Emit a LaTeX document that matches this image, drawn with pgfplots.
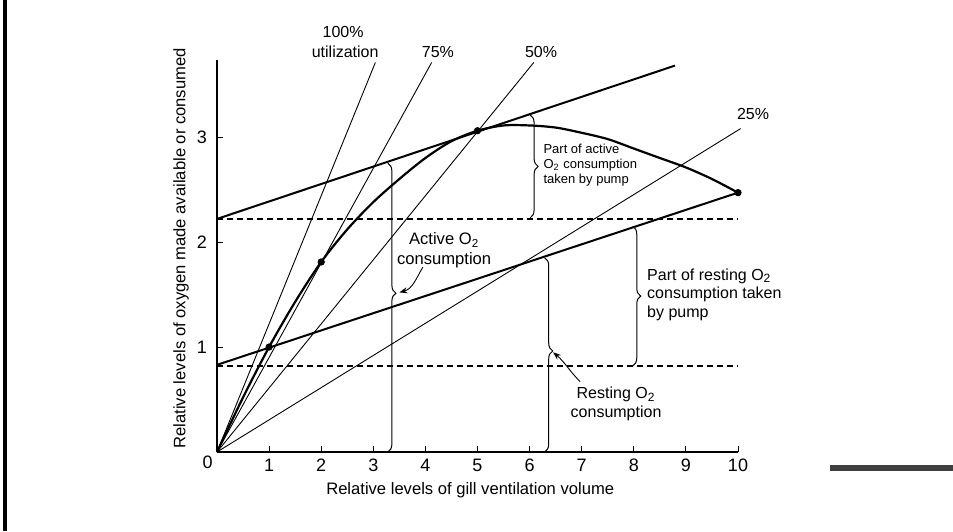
\documentclass[border=0pt]{standalone}
\usepackage{pgfplots}
\pgfplotsset{compat=1.18}
\usetikzlibrary{arrows.meta,decorations.pathreplacing}
\usepackage{fontspec}
\setmainfont{Liberation Sans}
\newcommand{\fs}[2]{\fontsize{#1}{#2}\selectfont}
\begin{document}
\begin{tikzpicture}
\useasboundingbox (-108.5pt,-39.5pt) rectangle (368pt,226pt);
\begin{axis}[
  anchor=origin, at={(0pt,0pt)},
  x=26.05pt, y=52.5pt,
  xmin=0, xmax=10, ymin=0, ymax=3.73,
  axis x line*=bottom, axis y line*=left,
  axis line style={line width=0.6pt,-},
  xtick={1,...,10}, ytick={1,2,3},
  tick align=inside,
  major tick length=3pt,
  tick style={line width=0.5pt, black},
  ticklabel style={font=\fs{9}{10}},
  yticklabel style={xshift=-1.5pt},
  /pgf/number format/assume math mode=true,
  xlabel={Relative levels of gill ventilation volume},
  ylabel={Relative levels of oxygen made available or consumed},
  label style={font=\fs{8.3}{10}},
  xlabel style={at={(rel axis cs:0.486,0)}, anchor=center, yshift=-19pt},
  ylabel style={at={(rel axis cs:0,0.52)}, anchor=center, yshift=18pt},
  clip=false,
]
% utilization lines
\addplot[line width=0.45pt] coordinates {(0,0) (3.04,3.71)};
\addplot[line width=0.45pt] coordinates {(0,0) (4.12,3.71)};
\addplot[line width=0.45pt] coordinates {(0,0) (6.08,3.71)};
\addplot[line width=0.45pt] coordinates {(0,0) (10.05,3.08)};
% dashed reference levels
\addplot[line width=0.6pt, dash pattern=on 3pt off 2pt] coordinates {(0,2.22) (10,2.22)};
\addplot[line width=0.6pt, dash pattern=on 3pt off 2pt] coordinates {(0,0.82) (10,0.82)};
% tangent lines
\addplot[line width=1pt] coordinates {(0,2.22) (8.79,3.68)};
\addplot[line width=1pt] coordinates {(0,0.83) (10,2.47)};
% oxygen made available curve
\addplot[line width=1.1pt, smooth] coordinates {
 (0,0) (0.5,0.52) (1,1) (1.5,1.43) (2,1.81) (2.5,2.12) (3,2.38) (3.5,2.6)
 (4,2.8) (4.5,2.96) (5,3.06) (5.5,3.11) (6,3.11) (6.5,3.09) (7,3.04)
 (7.5,2.98) (8,2.89) (8.5,2.8) (9,2.71) (9.5,2.6) (10,2.47)};
\addplot[only marks, mark=*, mark size=1.6pt] coordinates {(1,1) (2,1.81) (5,3.06) (10,2.47)};
% braces
\draw[line width=0.5pt, decorate, decoration={brace, amplitude=4pt, aspect=0.45}] (axis cs:3.28,2.75) -- (axis cs:3.28,0);
\draw[line width=0.5pt, decorate, decoration={brace, amplitude=4pt, aspect=0.48}] (axis cs:6.29,1.85) -- (axis cs:6.29,0);
\draw[line width=0.5pt, decorate, decoration={brace, amplitude=4pt, aspect=0.5}] (axis cs:6.01,3.21) -- (axis cs:6.01,2.23);
\draw[line width=0.5pt, decorate, decoration={brace, amplitude=4pt, aspect=0.5}] (axis cs:7.98,2.15) -- (axis cs:7.98,0.82);
% arrows
\draw[line width=0.45pt, -{Stealth[length=4pt,width=3pt]}] (axis cs:3.95,1.76) to[out=-120,in=15] (axis cs:3.5,1.52);
\draw[line width=0.45pt, -{Stealth[length=4pt,width=3pt]}] (axis cs:6.97,0.67) to[out=135,in=-40] (axis cs:6.45,0.95);
% labels
\node[font=\fs{8}{9}] at (axis cs:2.42,4.0) {100\%};
\node[font=\fs{8}{9}] at (axis cs:2.46,3.81) {utilization};
\node[font=\fs{8}{9}] at (axis cs:4.24,3.81) {75\%};
\node[font=\fs{8}{9}] at (axis cs:6.22,3.81) {50\%};
\node[font=\fs{8}{9}] at (axis cs:10.29,3.22) {25\%};
\node[font=\fs{6.5}{7.5}, anchor=west, align=left, inner sep=0pt] at (axis cs:6.26,2.73) {Part of active\\O\textsubscript{2} consumption\\taken by pump};
\node[font=\fs{8.3}{10}, align=center, inner sep=0pt] at (axis cs:4.36,1.92) {Active O\textsubscript{2}\\consumption};
\node[font=\fs{8}{9.3}, anchor=west, align=left, inner sep=0pt] at (axis cs:8.25,1.5) {Part of resting O\textsubscript{2}\\consumption taken\\by pump};
\node[font=\fs{8}{9.5}, align=center, inner sep=0pt] at (axis cs:7.66,0.46) {Resting O\textsubscript{2}\\consumption};
\node[font=\fs{9}{10}, anchor=north east, inner sep=2pt] at (axis cs:0,0) {0};
\end{axis}
\draw[line width=1.6pt] (-106pt,-39.5pt) -- (-106pt,226pt);
\fill[black!75] (306.5pt,-6.5pt) rectangle (368pt,-9.5pt);
\end{tikzpicture}
\end{document}
